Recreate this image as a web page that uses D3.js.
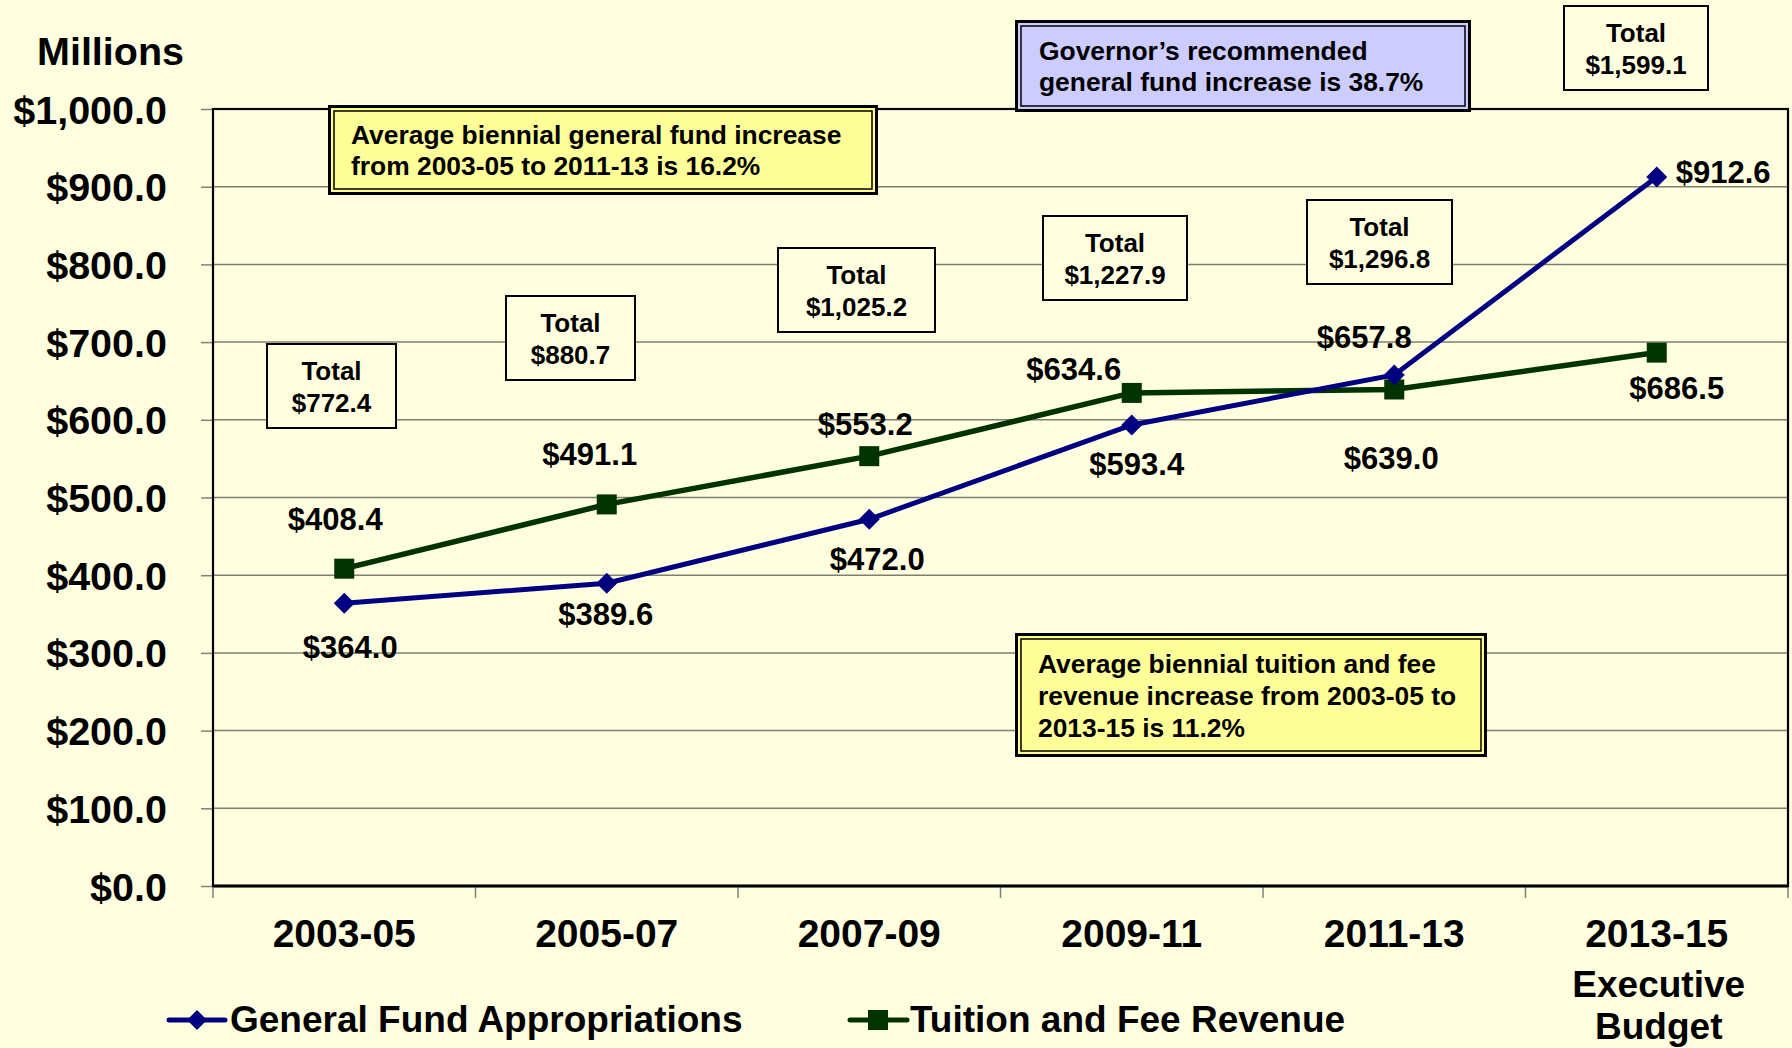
<!DOCTYPE html>
<html>
<head>
<meta charset="utf-8">
<script src="https://cdn.jsdelivr.net/npm/d3@7"></script>
<style>
  html, body { margin: 0; padding: 0; background: #FFFFE0; }
  svg { display: block; }
  text { font-family: "Liberation Sans", Arial, sans-serif; font-weight: bold; fill: #000; }
</style>
</head>
<body>
<svg id="chart" width="1792" height="1048"></svg>
<script>
// ---------- data ----------
const categories = ["2003-05", "2005-07", "2007-09", "2009-11", "2011-13", "2013-15"];
const categoryExtraLines = ["Executive", "Budget"]; // under the last category
const generalFund = [364.0, 389.6, 472.0, 593.4, 657.8, 912.6];
const tuitionFees = [408.4, 491.1, 553.2, 634.6, 639.0, 686.5];
const totals = [772.4, 880.7, 1025.2, 1227.9, 1296.8, 1599.1];
const yTicks = [0, 100, 200, 300, 400, 500, 600, 700, 800, 900, 1000];
const seriesNames = ["General Fund Appropriations", "Tuition and Fee Revenue"];
const yAxisTitle = "Millions";
const noteGeneral = ["Average biennial general fund increase", "from 2003-05 to 2011-13 is 16.2%"];
const noteGovernor = ["Governor\u2019s recommended", "general fund increase is 38.7%"];
const noteTuition = ["Average biennial tuition and fee", "revenue increase from 2003-05 to", "2013-15 is 11.2%"];

// ---------- layout (pixel placement of labels and boxes) ----------
const gfLabelOffsets = [[6, 55, "middle"], [-1, 42, "middle"], [8, 51, "middle"], [5, 50, "middle"], [-30, -27, "middle"], [19, 6, "start"]];
const tfLabelOffsets = [[-9, -39, "middle"], [-17, -39, "middle"], [-4, -21, "middle"], [-58, -13, "middle"], [-3, 80, "middle"], [20, 46, "middle"]];
const totalBoxes = [[267, 344, 129, 84], [506, 296, 129, 84], [778, 248, 157, 84], [1043, 216, 144, 84], [1307, 200, 145, 84], [1564, 6, 144, 84]];

const W = 1792, H = 1048;
const plot = { left: 213, right: 1788, top: 109, bottom: 886 };
const bg = "#FFFFE0";
const blue = "#000080", green = "#003300";

const svg = d3.select("#chart");
svg.append("rect").attr("width", W).attr("height", H).attr("fill", bg);

const x = d3.scaleBand().domain(categories).range([plot.left, plot.right]).padding(0);
const y = d3.scaleLinear().domain([0, 1000]).range([plot.bottom, plot.top]);
const cx = c => x(c) + x.bandwidth() / 2;

// gridlines
svg.append("g").selectAll("line").data(yTicks.filter(d => d > 0)).join("line")
  .attr("x1", plot.left).attr("x2", plot.right)
  .attr("y1", d => y(d)).attr("y2", d => y(d))
  .attr("stroke", "#7f7f70").attr("stroke-width", 1.5);

// y axis
const yAxis = d3.axisLeft(y).tickValues(yTicks)
  .tickFormat(d => "$" + d3.format(",.1f")(d))
  .tickSize(12).tickPadding(34);
const gy = svg.append("g").attr("transform", `translate(${plot.left},0)`).call(yAxis);
gy.select(".domain").remove();
gy.selectAll(".tick line").attr("stroke", "#808080").attr("stroke-width", 1.5);
gy.selectAll(".tick text").attr("font-size", 39.5).attr("font-family", "Liberation Sans, Arial, sans-serif")
  .attr("font-weight", "bold").attr("fill", "#000").attr("dy", null).attr("y", 14);

// x axis ticks at band edges
const edges = categories.map(c => x(c)).concat([x.range()[1]]);
svg.append("g").selectAll("line").data(edges).join("line")
  .attr("x1", d => d).attr("x2", d => d)
  .attr("y1", plot.bottom).attr("y2", plot.bottom + 12)
  .attr("stroke", "#808080").attr("stroke-width", 1.5);

// plot border
svg.append("rect").attr("x", plot.left).attr("y", plot.top)
  .attr("width", plot.right - plot.left).attr("height", plot.bottom - plot.top)
  .attr("fill", "none").attr("stroke", "#000").attr("stroke-width", 2.2);
svg.append("line").attr("x1", plot.left).attr("x2", plot.right)
  .attr("y1", plot.bottom).attr("y2", plot.bottom).attr("stroke", "#000").attr("stroke-width", 3);

// category labels
svg.append("g").selectAll("text").data(categories).join("text")
  .attr("x", d => cx(d)).attr("y", 947).attr("text-anchor", "middle").attr("font-size", 39)
  .text(d => d);
categoryExtraLines.forEach((t, i) => {
  svg.append("text").attr("x", cx(categories[categories.length - 1]) + 2).attr("y", 997 + i * 42)
    .attr("text-anchor", "middle").attr("font-size", 37).text(t);
});

// y axis title
svg.append("text").attr("x", 37).attr("y", 65).attr("font-size", 39.5).text(yAxisTitle);

// total boxes
const tb = svg.append("g");
totals.forEach((t, i) => {
  const [bx, by, bw, bh] = totalBoxes[i];
  tb.append("rect").attr("x", bx).attr("y", by).attr("width", bw).attr("height", bh)
    .attr("fill", bg).attr("stroke", "#000").attr("stroke-width", 2);
  tb.append("text").attr("x", bx + bw / 2).attr("y", by + 36).attr("text-anchor", "middle")
    .attr("font-size", 26).text("Total");
  tb.append("text").attr("x", bx + bw / 2).attr("y", by + 68).attr("text-anchor", "middle")
    .attr("font-size", 26).text("$" + d3.format(",.1f")(t));
});

// annotation boxes (double border)
function noteBox(x0, y0, x1, y1, fill, lines, tx, ty, lh) {
  const g = svg.append("g");
  g.append("rect").attr("x", x0 + 1.5).attr("y", y0 + 1.5).attr("width", x1 - x0 - 3).attr("height", y1 - y0 - 3)
    .attr("fill", fill).attr("stroke", "#000").attr("stroke-width", 3);
  g.append("rect").attr("x", x0 + 6).attr("y", y0 + 6).attr("width", x1 - x0 - 12).attr("height", y1 - y0 - 12)
    .attr("fill", "none").attr("stroke", "#000").attr("stroke-width", 1.5);
  lines.forEach((l, i) => {
    g.append("text").attr("x", tx).attr("y", ty + i * lh).attr("font-size", 26.4).text(l);
  });
}
noteBox(328, 105, 878, 195, "#FFFF99", noteGeneral, 351, 144, 31);
noteBox(1015, 20, 1471, 112, "#CCCCFF", noteGovernor, 1039, 60, 31);
noteBox(1015, 633, 1487, 757, "#FFFF99", noteTuition, 1038, 673, 32);

// lines
const lineGen = d3.line().x((d, i) => cx(categories[i])).y(d => y(d));
svg.append("path").datum(tuitionFees).attr("d", lineGen)
  .attr("fill", "none").attr("stroke", green).attr("stroke-width", 5.5);
svg.append("path").datum(generalFund).attr("d", lineGen)
  .attr("fill", "none").attr("stroke", blue).attr("stroke-width", 5);

const diamond = s => `M0,${-s}L${s},0L0,${s}L${-s},0Z`;
svg.append("g").selectAll("rect").data(tuitionFees).join("rect")
  .attr("x", (d, i) => cx(categories[i]) - 10).attr("y", d => y(d) - 10)
  .attr("width", 20).attr("height", 20).attr("fill", green);
svg.append("g").selectAll("path").data(generalFund).join("path")
  .attr("transform", (d, i) => `translate(${cx(categories[i])},${y(d)})`)
  .attr("d", diamond(10.5)).attr("fill", blue);

// data labels
const fmt = d => "$" + d3.format(",.1f")(d);
svg.append("g").selectAll("text").data(generalFund).join("text")
  .attr("x", (d, i) => cx(categories[i]) + gfLabelOffsets[i][0])
  .attr("y", (d, i) => y(d) + gfLabelOffsets[i][1])
  .attr("text-anchor", (d, i) => gfLabelOffsets[i][2])
  .attr("font-size", 31).text(fmt);
svg.append("g").selectAll("text").data(tuitionFees).join("text")
  .attr("x", (d, i) => cx(categories[i]) + tfLabelOffsets[i][0])
  .attr("y", (d, i) => y(d) + tfLabelOffsets[i][1])
  .attr("text-anchor", (d, i) => tfLabelOffsets[i][2])
  .attr("font-size", 31).text(fmt);

// legend
const lg = svg.append("g");
lg.append("line").attr("x1", 169).attr("x2", 225).attr("y1", 1020).attr("y2", 1020)
  .attr("stroke", blue).attr("stroke-width", 5).attr("stroke-linecap", "round");
lg.append("path").attr("transform", "translate(197,1020)").attr("d", diamond(10)).attr("fill", blue);
lg.append("text").attr("x", 230).attr("y", 1032).attr("font-size", 37).text(seriesNames[0]);
lg.append("line").attr("x1", 850).attr("x2", 907).attr("y1", 1020).attr("y2", 1020)
  .attr("stroke", green).attr("stroke-width", 5).attr("stroke-linecap", "round");
lg.append("rect").attr("x", 868).attr("y", 1010).attr("width", 20).attr("height", 20).attr("fill", green);
lg.append("text").attr("x", 910).attr("y", 1032).attr("font-size", 37).text(seriesNames[1]);
</script>
</body>
</html>
